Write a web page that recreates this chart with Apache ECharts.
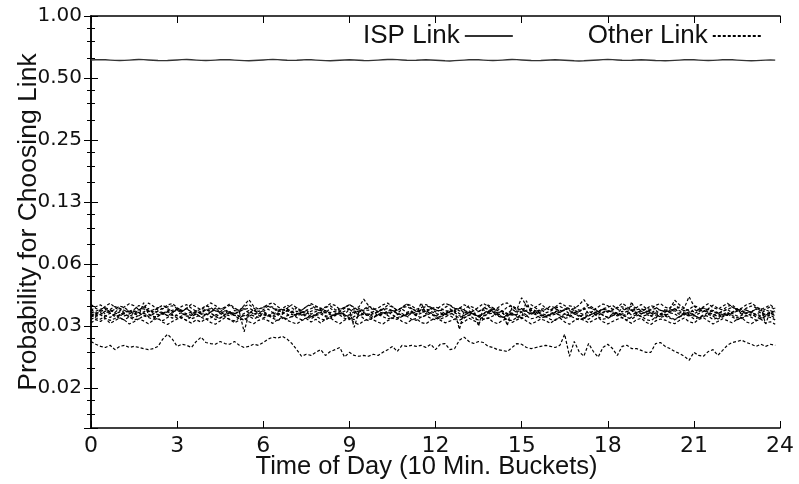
<!DOCTYPE html>
<html>
<head>
<meta charset="utf-8">
<script src="https://cdn.jsdelivr.net/npm/echarts@6/dist/echarts.min.js"></script>
<style>
  html, body { margin: 0; padding: 0; background: #fff; }
  #chart { width: 799px; height: 484px; }
</style>
</head>
<body>
<div id="chart"></div>
<script>
// 10 minute buckets over one day, x axis is in hours
const bucketsPerHour = 6
const xTicks = [0, 3, 6, 9, 12, 15, 18, 21, 24]
// y axis is log base 2, ticks at 2^-6 .. 2^0
const yTickLabels = ['0.02', '0.03', '0.06', '0.13', '0.25', '0.50', '1.00']

const ispLink = [
  0.612,0.613,0.614,0.613,0.611,0.609,0.608,0.609,0.611,0.613,0.615,0.614,
  0.612,0.610,0.608,0.607,0.608,0.610,0.612,0.614,0.615,0.613,0.611,0.609,
  0.608,0.609,0.611,0.613,0.614,0.613,0.611,0.609,0.607,0.606,0.608,0.610,
  0.612,0.614,0.615,0.614,0.612,0.610,0.609,0.610,0.612,0.614,0.613,0.611,
  0.609,0.607,0.606,0.608,0.610,0.612,0.613,0.612,0.610,0.608,0.607,0.609,
  0.611,0.613,0.615,0.616,0.614,0.612,0.610,0.609,0.610,0.612,0.613,0.612,
  0.610,0.608,0.606,0.605,0.607,0.609,0.611,0.613,0.614,0.613,0.611,0.609,
  0.608,0.609,0.611,0.613,0.615,0.614,0.612,0.610,0.608,0.607,0.608,0.610,
  0.612,0.613,0.612,0.610,0.608,0.606,0.605,0.606,0.608,0.610,0.612,0.614,
  0.615,0.614,0.612,0.610,0.609,0.610,0.612,0.613,0.612,0.610,0.608,0.607,
  0.606,0.607,0.609,0.611,0.613,0.614,0.613,0.611,0.609,0.608,0.609,0.611,
  0.613,0.614,0.613,0.611,0.609,0.607,0.606,0.607,0.609,0.611,0.612,0.611
]

// the other links, one array each
const other1 = [
  .0398,.0381,.0372,.0390,.0403,.0385,.0370,.0388,.0401,.0392,.0376,.0383,
  .0404,.0391,.0373,.0380,.0396,.0402,.0384,.0369,.0382,.0399,.0387,.0375,
  .0389,.0405,.0393,.0378,.0386,.0400,.0382,.0371,.0394,.0420,.0390,.0377,
  .0385,.0398,.0406,.0389,.0374,.0381,.0397,.0383,.0372,.0388,.0402,.0391,
  .0379,.0386,.0401,.0394,.0376,.0384,.0399,.0380,.0387,.0422,.0393,.0375,
  .0382,.0396,.0404,.0388,.0373,.0385,.0400,.0392,.0377,.0383,.0398,.0386,
  .0374,.0389,.0403,.0395,.0378,.0381,.0397,.0384,.0370,.0386,.0402,.0390,
  .0376,.0383,.0399,.0405,.0387,.0375,.0429,.0391,.0379,.0388,.0401,.0382,
  .0373,.0386,.0404,.0393,.0378,.0380,.0395,.0420,.0390,.0374,.0387,.0400,
  .0392,.0377,.0385,.0403,.0389,.0372,.0384,.0398,.0381,.0376,.0394,.0402,
  .0386,.0379,.0417,.0396,.0383,.0434,.0391,.0375,.0388,.0401,.0384,.0377,
  .0390,.0403,.0387,.0374,.0382,.0397,.0404,.0389,.0376,.0385,.0396,.0380
]
const other2 = [
  .0372,.0388,.0396,.0379,.0366,.0377,.0391,.0384,.0369,.0376,.0393,.0386,
  .0371,.0368,.0382,.0395,.0380,.0367,.0374,.0390,.0397,.0381,.0369,.0378,
  .0392,.0385,.0370,.0366,.0383,.0394,.0378,.0372,.0389,.0398,.0382,.0368,
  .0375,.0391,.0386,.0370,.0380,.0395,.0383,.0367,.0373,.0388,.0396,.0379,
  .0369,.0384,.0392,.0376,.0368,.0381,.0397,.0385,.0371,.0377,.0390,.0382,
  .0366,.0378,.0394,.0387,.0372,.0383,.0399,.0380,.0368,.0375,.0391,.0386,
  .0373,.0369,.0385,.0396,.0381,.0370,.0377,.0392,.0384,.0367,.0380,.0395,
  .0383,.0371,.0368,.0386,.0393,.0379,.0372,.0388,.0397,.0381,.0369,.0376,
  .0390,.0384,.0367,.0375,.0392,.0387,.0373,.0380,.0396,.0382,.0368,.0379,
  .0385,.0394,.0378,.0366,.0381,.0390,.0383,.0370,.0377,.0393,.0386,.0372,
  .0369,.0384,.0398,.0380,.0371,.0376,.0392,.0385,.0368,.0379,.0395,.0381,
  .0374,.0389,.0396,.0378,.0367,.0382,.0391,.0384,.0370,.0377,.0388,.0375
]
const other3 = [
  .0362,.0369,.0378,.0383,.0376,.0389,.0381,.0372,.0365,.0370,.0363,.0359,
  .0368,.0375,.0384,.0379,.0387,.0392,.0380,.0373,.0379,.0366,.0361,.0369,
  .0377,.0368,.0374,.0382,.0375,.0364,.0358,.0367,.0293,.0360,.0371,.0378,
  .0386,.0390,.0381,.0374,.0369,.0376,.0365,.0359,.0364,.0373,.0380,.0388,
  .0382,.0370,.0363,.0369,.0378,.0385,.0377,.0308,.0366,.0374,.0383,.0376,
  .0368,.0361,.0357,.0366,.0375,.0382,.0389,.0378,.0371,.0364,.0370,.0379,
  .0386,.0380,.0372,.0365,.0373,.0301,.0370,.0363,.0369,.0312,.0384,.0377,
  .0369,.0362,.0370,.0314,.0388,.0381,.0373,.0366,.0359,.0368,.0376,.0383,
  .0375,.0382,.0389,.0379,.0371,.0363,.0368,.0376,.0384,.0377,.0368,.0362,
  .0367,.0375,.0383,.0388,.0379,.0372,.0364,.0358,.0366,.0374,.0381,.0373,
  .0365,.0371,.0379,.0386,.0380,.0372,.0367,.0375,.0382,.0374,.0366,.0360,
  .0369,.0377,.0385,.0378,.0370,.0363,.0368,.0376,.0383,.0320,.0371,.0364
]
const other4 = [
  .0378,.0360,.0373,.0358,.0375,.0364,.0381,.0362,.0370,.0357,.0376,.0365,
  .0380,.0363,.0369,.0356,.0374,.0361,.0379,.0366,.0382,.0360,.0371,.0359,
  .0377,.0364,.0383,.0362,.0368,.0355,.0372,.0367,.0380,.0361,.0375,.0358,
  .0369,.0378,.0363,.0381,.0359,.0370,.0366,.0384,.0362,.0373,.0357,.0368,
  .0376,.0360,.0382,.0365,.0371,.0356,.0377,.0363,.0380,.0369,.0374,.0358,
  .0367,.0383,.0361,.0372,.0359,.0378,.0364,.0370,.0355,.0376,.0362,.0381,
  .0366,.0373,.0358,.0379,.0365,.0382,.0360,.0371,.0357,.0368,.0375,.0363,
  .0384,.0361,.0370,.0356,.0377,.0364,.0380,.0368,.0373,.0359,.0376,.0362,
  .0369,.0381,.0363,.0374,.0358,.0372,.0366,.0383,.0360,.0370,.0357,.0378,
  .0365,.0371,.0360,.0382,.0367,.0375,.0359,.0368,.0379,.0362,.0373,.0356,
  .0376,.0364,.0380,.0361,.0372,.0358,.0378,.0366,.0384,.0363,.0370,.0359,
  .0368,.0377,.0362,.0381,.0357,.0373,.0365,.0379,.0360,.0374,.0367,.0358
]
const other5 = [
  .0353,.0359,.0368,.0376,.0371,.0362,.0354,.0350,.0358,.0367,.0375,.0379,
  .0370,.0361,.0355,.0359,.0366,.0373,.0378,.0369,.0358,.0352,.0357,.0365,
  .0374,.0380,.0372,.0363,.0356,.0351,.0359,.0368,.0377,.0381,.0373,.0362,
  .0354,.0350,.0357,.0366,.0375,.0379,.0368,.0359,.0353,.0358,.0369,.0376,
  .0372,.0364,.0355,.0351,.0360,.0369,.0378,.0374,.0365,.0357,.0352,.0359,
  .0367,.0376,.0380,.0371,.0362,.0353,.0350,.0358,.0366,.0374,.0378,.0369,
  .0360,.0354,.0359,.0368,.0377,.0382,.0373,.0364,.0355,.0351,.0358,.0367,
  .0375,.0379,.0369,.0360,.0353,.0356,.0365,.0373,.0378,.0370,.0361,.0354,
  .0350,.0357,.0366,.0376,.0380,.0372,.0363,.0355,.0352,.0360,.0369,.0377,
  .0373,.0364,.0356,.0351,.0358,.0367,.0375,.0379,.0370,.0361,.0353,.0357,
  .0366,.0374,.0379,.0371,.0362,.0354,.0350,.0359,.0368,.0376,.0372,.0363,
  .0355,.0352,.0360,.0369,.0377,.0373,.0364,.0356,.0351,.0358,.0365,.0370
]
const other6 = [
  .0368,.0352,.0356,.0370,.0361,.0347,.0354,.0365,.0373,.0359,.0351,.0362,
  .0348,.0357,.0369,.0363,.0350,.0364,.0374,.0360,.0349,.0353,.0367,.0358,
  .0355,.0366,.0346,.0359,.0371,.0365,.0352,.0348,.0360,.0372,.0357,.0363,
  .0370,.0354,.0349,.0361,.0356,.0373,.0362,.0350,.0358,.0369,.0347,.0355,
  .0364,.0372,.0359,.0351,.0366,.0353,.0348,.0360,.0371,.0363,.0354,.0368,
  .0350,.0357,.0369,.0374,.0360,.0349,.0356,.0367,.0352,.0361,.0370,.0358,
  .0347,.0362,.0355,.0368,.0373,.0359,.0350,.0364,.0357,.0348,.0360,.0372,
  .0365,.0353,.0361,.0349,.0358,.0370,.0366,.0354,.0362,.0371,.0356,.0348,
  .0359,.0367,.0373,.0358,.0351,.0363,.0347,.0355,.0368,.0360,.0352,.0365,
  .0372,.0361,.0350,.0357,.0369,.0353,.0364,.0370,.0356,.0349,.0362,.0358,
  .0351,.0366,.0371,.0355,.0360,.0348,.0359,.0368,.0374,.0361,.0353,.0360,
  .0349,.0358,.0365,.0372,.0357,.0363,.0350,.0356,.0367,.0354,.0361,.0352
]
const other7 = [
  .0346,.0355,.0363,.0351,.0344,.0358,.0366,.0359,.0348,.0343,.0352,.0406,
  .0357,.0345,.0349,.0361,.0368,.0353,.0342,.0350,.0359,.0365,.0354,.0346,
  .0353,.0362,.0347,.0341,.0356,.0367,.0360,.0349,.0351,.0358,.0350,.0345,
  .0363,.0355,.0344,.0352,.0364,.0358,.0346,.0357,.0366,.0351,.0343,.0359,
  .0365,.0350,.0348,.0356,.0362,.0349,.0354,.0367,.0353,.0356,.0358,.0347,
  .0352,.0361,.0368,.0354,.0343,.0350,.0360,.0366,.0355,.0405,.0357,.0363,
  .0351,.0346,.0359,.0365,.0352,.0342,.0353,.0364,.0358,.0347,.0350,.0361,
  .0367,.0356,.0345,.0354,.0362,.0350,.0343,.0415,.0357,.0365,.0351,.0346,
  .0355,.0364,.0353,.0344,.0359,.0366,.0354,.0342,.0350,.0360,.0368,.0352,
  .0345,.0357,.0363,.0351,.0349,.0410,.0356,.0347,.0353,.0365,.0359,.0344,
  .0350,.0362,.0358,.0346,.0354,.0367,.0355,.0343,.0351,.0364,.0357,.0348,
  .0356,.0365,.0352,.0342,.0353,.0360,.0366,.0354,.0345,.0358,.0362,.0350
]
const other8 = [
  .0356,.0342,.0338,.0350,.0361,.0353,.0340,.0335,.0347,.0359,.0363,.0351,
  .0344,.0337,.0349,.0358,.0352,.0341,.0355,.0364,.0350,.0339,.0346,.0357,
  .0360,.0348,.0336,.0343,.0354,.0362,.0351,.0340,.0334,.0348,.0359,.0353,
  .0342,.0350,.0363,.0356,.0345,.0338,.0349,.0357,.0361,.0346,.0339,.0352,
  .0358,.0347,.0341,.0353,.0360,.0354,.0343,.0336,.0350,.0359,.0348,.0342,
  .0355,.0364,.0352,.0340,.0337,.0348,.0356,.0362,.0350,.0344,.0353,.0360,
  .0349,.0338,.0345,.0357,.0363,.0351,.0342,.0354,.0340,.0335,.0347,.0358,
  .0361,.0350,.0343,.0352,.0359,.0346,.0339,.0350,.0362,.0355,.0341,.0348,
  .0356,.0363,.0351,.0340,.0346,.0358,.0352,.0341,.0337,.0350,.0360,.0354,
  .0343,.0351,.0362,.0356,.0344,.0338,.0350,.0359,.0363,.0350,.0342,.0349,
  .0357,.0345,.0336,.0348,.0359,.0364,.0353,.0342,.0347,.0356,.0349,.0338,
  .0346,.0355,.0361,.0350,.0343,.0352,.0358,.0346,.0339,.0348,.0354,.0341
]
const other9 = [
  .0336,.0348,.0355,.0341,.0333,.0340,.0352,.0359,.0346,.0335,.0339,.0350,
  .0357,.0349,.0338,.0332,.0344,.0356,.0351,.0340,.0334,.0347,.0358,.0345,
  .0337,.0342,.0354,.0360,.0348,.0336,.0331,.0343,.0353,.0349,.0339,.0346,
  .0358,.0352,.0341,.0333,.0340,.0351,.0357,.0344,.0335,.0342,.0355,.0350,
  .0338,.0334,.0346,.0359,.0353,.0341,.0336,.0348,.0354,.0340,.0332,.0345,
  .0356,.0347,.0339,.0343,.0355,.0360,.0349,.0337,.0333,.0346,.0352,.0341,
  .0335,.0344,.0357,.0351,.0340,.0334,.0342,.0353,.0358,.0347,.0338,.0340,
  .0350,.0359,.0345,.0336,.0332,.0344,.0356,.0350,.0339,.0343,.0354,.0348,
  .0337,.0333,.0345,.0358,.0352,.0342,.0335,.0341,.0353,.0359,.0346,.0338,
  .0340,.0351,.0357,.0343,.0334,.0346,.0355,.0349,.0336,.0332,.0344,.0356,
  .0350,.0341,.0335,.0347,.0358,.0352,.0339,.0343,.0354,.0348,.0337,.0342,
  .0353,.0359,.0346,.0336,.0340,.0351,.0345,.0333,.0342,.0350,.0344,.0335
]
const other10 = [
  .0324,.0336,.0329,.0341,.0322,.0332,.0343,.0334,.0320,.0328,.0339,.0331,
  .0321,.0333,.0342,.0326,.0318,.0329,.0338,.0344,.0332,.0323,.0335,.0327,
  .0340,.0325,.0319,.0331,.0343,.0337,.0324,.0334,.0341,.0328,.0321,.0333,
  .0339,.0332,.0322,.0336,.0345,.0333,.0326,.0320,.0332,.0340,.0327,.0337,
  .0323,.0338,.0343,.0330,.0321,.0334,.0342,.0325,.0318,.0331,.0339,.0335,
  .0326,.0320,.0332,.0341,.0344,.0329,.0322,.0335,.0340,.0325,.0321,.0333,
  .0342,.0334,.0324,.0330,.0338,.0319,.0328,.0341,.0332,.0323,.0337,.0343,
  .0327,.0321,.0333,.0339,.0325,.0335,.0344,.0331,.0320,.0328,.0338,.0332,
  .0322,.0336,.0342,.0327,.0319,.0332,.0340,.0334,.0324,.0333,.0343,.0328,
  .0320,.0329,.0337,.0344,.0332,.0322,.0335,.0341,.0326,.0318,.0331,.0338,
  .0334,.0325,.0321,.0333,.0342,.0328,.0323,.0337,.0343,.0331,.0320,.0329,
  .0339,.0332,.0324,.0336,.0343,.0327,.0321,.0331,.0338,.0323,.0328,.0319
]
// the one link that sits lower than the rest
const otherLow = [
  .0263,.0255,.0249,.0246,.0252,.0240,.0249,.0252,.0246,.0249,.0246,.0243,
  .0240,.0243,.0249,.0270,.0285,.0270,.0249,.0255,.0252,.0246,.0263,.0276,
  .0260,.0257,.0255,.0263,.0257,.0255,.0263,.0252,.0246,.0249,.0255,.0252,
  .0260,.0270,.0276,.0273,.0279,.0270,.0257,.0240,.0223,.0228,.0225,.0233,
  .0240,.0225,.0235,.0240,.0246,.0221,.0233,.0225,.0223,.0225,.0223,.0228,
  .0225,.0233,.0240,.0249,.0235,.0252,.0249,.0252,.0249,.0252,.0246,.0255,
  .0240,.0255,.0257,.0240,.0243,.0267,.0276,.0263,.0257,.0263,.0260,.0249,
  .0246,.0240,.0238,.0235,.0246,.0257,.0255,.0246,.0243,.0246,.0249,.0252,
  .0249,.0246,.0252,.0285,.0223,.0263,.0235,.0223,.0257,.0235,.0221,.0246,
  .0255,.0243,.0225,.0249,.0252,.0243,.0243,.0238,.0233,.0233,.0257,.0260,
  .0249,.0243,.0235,.0230,.0223,.0213,.0233,.0225,.0223,.0235,.0240,.0225,
  .0238,.0252,.0260,.0263,.0267,.0260,.0255,.0249,.0255,.0249,.0255,.0252
]
const otherLinks = [other1, other2, other3, other4, other5, other6, other7, other8, other9, other10, otherLow]

const font = "'Liberation Sans', Arial, Helvetica, sans-serif"
const tickFont = "'DejaVu Sans', sans-serif"
const ink = '#111'

function toPoints(vals) {
  return vals.map((v, i) => [i / bucketsPerHour, v])
}

function yLabel(v) {
  const e = Math.log2(v)
  if (Math.abs(e - Math.round(e)) > 1e-6) return '' // the 0.01 end of the axis
  return yTickLabels[Math.round(e) + 6] || ''
}

const axisLine = { show: true, lineStyle: { color: '#000', width: 1.5 } }

function xAxisOf(pos, showLabels) {
  return {
    type: 'value',
    position: pos,
    min: xTicks[0],
    max: xTicks[xTicks.length - 1],
    interval: 3,
    axisLine: axisLine,
    axisTick: { show: true, inside: true, length: 7, lineStyle: { color: '#000', width: 1 } },
    axisLabel: { show: showLabels, color: ink, fontSize: 22, fontFamily: tickFont, margin: 7 },
    splitLine: { show: false }
  }
}

function yAxisOf(pos, showLabels) {
  return {
    type: 'log',
    logBase: 2,
    position: pos,
    min: 0.01,
    max: 1,
    axisLine: axisLine,
    axisTick: { show: true, inside: true, length: 7, lineStyle: { color: '#000', width: 1 } },
    minorTick: { show: true, splitNumber: 4, length: 4, lineStyle: { color: '#000', width: 1 } },
    axisLabel: { show: showLabels, color: ink, fontSize: 20, fontFamily: tickFont, margin: 9, formatter: yLabel },
    splitLine: { show: false },
    minorSplitLine: { show: false }
  }
}

const xBottom = xAxisOf('bottom', true)
xBottom.name = 'Time of Day (10 Min. Buckets)'
xBottom.nameLocation = 'middle'
xBottom.nameGap = 26
xBottom.nameMoveOverlap = false
xBottom.nameTextStyle = { color: ink, fontSize: 25.5, fontFamily: font, padding: [0, 18, 0, 0] }

const yLeft = yAxisOf('left', true)
yLeft.name = 'Probability for Choosing Link'
yLeft.nameLocation = 'middle'
yLeft.nameGap = 49
yLeft.nameMoveOverlap = false
yLeft.nameTextStyle = { color: ink, fontSize: 26.5, fontFamily: font }

const series = [{
  name: 'ISP Link',
  type: 'line',
  data: toPoints(ispLink),
  symbol: 'none',
  itemStyle: { color: '#000' },
  lineStyle: { color: '#333', width: 1.4 }
}]
otherLinks.forEach(vals => {
  series.push({
    name: 'Other Link',
    type: 'line',
    data: toPoints(vals),
    symbol: 'none',
    itemStyle: { color: '#000' },
    lineStyle: { color: '#000', width: 1.2, type: [3, 2] }
  })
})

const chart = echarts.init(document.getElementById('chart'), null, { renderer: 'canvas' })
chart.setOption({
  animation: false,
  backgroundColor: '#fff',
  grid: { left: 91, right: 19, top: 16, bottom: 56, containLabel: false, outerBoundsMode: 'none' },
  legend: {
    data: ['ISP Link', 'Other Link'],
    left: 358,
    top: 18,
    align: 'right',
    itemWidth: 48,
    itemHeight: 10,
    itemGap: 74,
    itemStyle: { opacity: 0 },
    textStyle: { color: ink, fontSize: 26, fontFamily: font, lineHeight: 26 }
  },
  xAxis: [xBottom, xAxisOf('top', false)],
  yAxis: [yLeft, yAxisOf('right', false)],
  series: series
})
</script>
</body>
</html>
